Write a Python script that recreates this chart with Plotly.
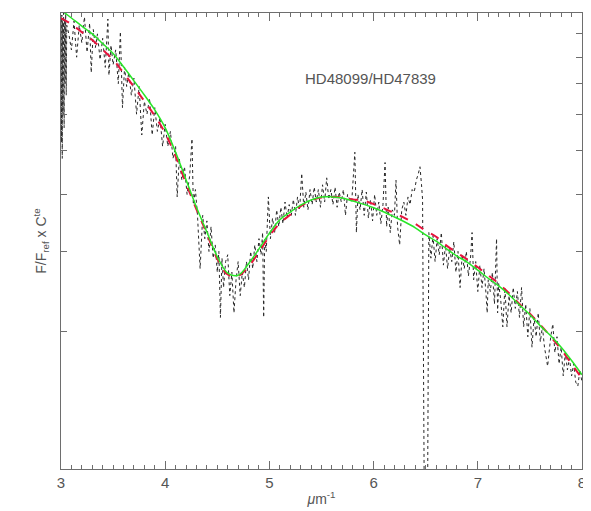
import plotly.graph_objs as go

GREY = 'rgba( 85,  85,  85, 1.0)'
AXIS = 'rgba(110, 110, 110, 1.0)'
BLACK = 'rgba( 40,  40,  40, 1.0)'
RED = 'rgba(230,  20,  60, 1.0)'
GREEN = 'rgba( 40, 230,  40, 1.0)'

# observed ratio spectrum (wavenumber in 1/micron, relative flux)
obs_x = [3.000, 3.004, 3.008, 3.012, 3.016, 3.020, 3.025, 3.030, 3.035, 3.040,
         3.045, 3.050, 3.055, 3.075, 3.100, 3.125, 3.150, 3.175, 3.200, 3.225,
         3.250, 3.275, 3.290, 3.310, 3.330, 3.350, 3.375, 3.400, 3.425, 3.450,
         3.460, 3.480, 3.500, 3.525, 3.550, 3.570, 3.590, 3.610, 3.630, 3.650,
         3.675, 3.700, 3.725, 3.750, 3.775, 3.800, 3.825, 3.850, 3.875, 3.900,
         3.925, 3.950, 3.975, 4.000, 4.025, 4.050, 4.075, 4.100, 4.115, 4.135,
         4.160, 4.185, 4.210, 4.235, 4.257, 4.270, 4.290, 4.310, 4.335, 4.360,
         4.380, 4.400, 4.420, 4.440, 4.460, 4.480, 4.500, 4.515, 4.530, 4.545,
         4.560, 4.580, 4.600, 4.620, 4.640, 4.660, 4.680, 4.700, 4.720, 4.740,
         4.760, 4.780, 4.800, 4.820, 4.840, 4.860, 4.880, 4.900, 4.920, 4.935,
         4.945, 4.955, 4.970, 4.990, 5.010, 5.030, 5.050, 5.070, 5.090, 5.110,
         5.130, 5.150, 5.170, 5.190, 5.210, 5.230, 5.250, 5.270, 5.290, 5.310,
         5.330, 5.350, 5.370, 5.390, 5.410, 5.430, 5.450, 5.470, 5.490, 5.510,
         5.530, 5.550, 5.570, 5.590, 5.610, 5.630, 5.650, 5.670, 5.690, 5.710,
         5.730, 5.750, 5.770, 5.790, 5.820, 5.835, 5.850, 5.870, 5.890, 5.910,
         5.930, 5.950, 5.970, 5.990, 6.010, 6.030, 6.050, 6.070, 6.090, 6.110,
         6.125, 6.140, 6.160, 6.180, 6.200, 6.215, 6.230, 6.250, 6.270, 6.290,
         6.310, 6.330, 6.350, 6.370, 6.390, 6.410, 6.430, 6.445, 6.460, 6.470,
         6.490, 6.515, 6.530, 6.550, 6.570, 6.590, 6.610, 6.630, 6.650, 6.670,
         6.690, 6.710, 6.730, 6.750, 6.770, 6.790, 6.810, 6.830, 6.850, 6.870,
         6.890, 6.910, 6.930, 6.945, 6.960, 6.980, 7.000, 7.020, 7.040, 7.060,
         7.080, 7.090, 7.100, 7.120, 7.140, 7.160, 7.180, 7.190, 7.200, 7.220,
         7.240, 7.260, 7.280, 7.300, 7.320, 7.340, 7.360, 7.380, 7.400, 7.420,
         7.440, 7.460, 7.480, 7.500, 7.520, 7.540, 7.560, 7.580, 7.600, 7.620,
         7.640, 7.670, 7.700, 7.720, 7.740, 7.760, 7.780, 7.800, 7.820, 7.840,
         7.860, 7.880, 7.900, 7.920, 7.940, 7.960, 7.980, 8.000]
obs_y = [9.8, 5.2, 9.9, 4.8, 9.6, 6.0, 10.0, 5.6, 9.7, 7.0,
         10.1, 6.6, 9.4, 9.0, 8.3, 9.6, 8.0, 9.4, 8.6, 9.8,
         8.2, 9.5, 7.4, 9.2, 8.4, 9.0, 7.9, 8.8, 7.6, 9.7,
         7.3, 8.5, 7.7, 8.3, 7.0, 9.1, 6.2, 7.6, 6.9, 7.4,
         6.6, 7.2, 6.0, 6.9, 5.4, 6.4, 6.0, 6.5, 5.4, 6.2,
         5.5, 5.9, 5.1, 5.7, 5.1, 5.5, 4.8, 5.1, 3.95, 4.8,
         4.3, 4.6, 4.0, 4.4, 5.3, 3.8, 4.1, 3.6, 2.75, 3.6,
         3.2, 3.5, 3.0, 3.4, 2.9, 3.1, 2.7, 3.0, 2.15, 2.9,
         2.5, 2.85, 2.95, 2.4, 2.7, 2.2, 2.6, 2.85, 2.4, 2.7,
         2.5, 2.85, 2.6, 3.0, 2.75, 3.1, 2.85, 3.2, 2.95, 3.3,
         2.15, 3.2, 3.0, 3.95, 3.2, 3.55, 3.3, 3.7, 3.4, 3.75,
         3.45, 3.85, 3.55, 3.8, 3.6, 3.9, 3.6, 3.95, 3.7, 4.45,
         3.75, 4.05, 3.7, 4.1, 3.8, 4.15, 3.85, 4.1, 3.75, 4.2,
         3.85, 4.35, 3.9, 4.1, 3.8, 4.15, 3.75, 4.05, 3.85, 4.1,
         3.6, 4.0, 3.9, 3.85, 4.95, 3.3, 4.0, 3.7, 4.1, 3.6,
         4.05, 3.55, 3.9, 3.5, 4.0, 3.6, 3.85, 3.45, 3.8, 4.7,
         3.4, 3.75, 3.3, 3.7, 3.6, 4.3, 3.4, 3.1, 3.7, 3.85,
         3.6, 3.95, 3.8, 4.1, 4.05, 4.3, 4.45, 4.6, 4.2, 3.9,
         0.6, 0.6, 3.3, 2.9, 3.25, 2.85, 3.2, 2.95, 3.3, 2.8,
         3.1, 2.75, 3.05, 2.85, 3.15, 2.7, 3.0, 2.5, 2.95, 2.75,
         3.0, 2.65, 2.9, 3.3, 2.6, 2.85, 2.45, 2.8, 2.5, 2.75,
         2.4, 2.2, 2.6, 2.45, 2.7, 2.3, 3.2, 2.2, 2.55, 2.35,
         2.05, 2.5, 2.05, 2.4, 2.2, 2.5, 2.25, 2.45, 2.15, 2.5,
         2.05, 2.3, 1.95, 2.25, 1.85, 2.15, 1.95, 2.2, 1.9, 2.05,
         1.85, 1.68, 1.95, 2.08, 1.8, 1.95, 1.7, 1.85, 1.6, 1.8,
         1.65, 1.75, 1.6, 1.7, 1.55, 1.52, 1.65, 1.55]

# fitted curves
fit_x = [3.0, 3.1, 3.2, 3.3, 3.4, 3.5, 3.6, 3.7, 3.8, 3.9,
         4.0, 4.1, 4.2, 4.3, 4.4, 4.5, 4.6, 4.7, 4.8, 4.9,
         5.0, 5.1, 5.2, 5.3, 5.4, 5.5, 5.6, 5.7, 5.8, 5.9,
         6.0, 6.1, 6.2, 6.3, 6.4, 6.5, 6.6, 6.7, 6.8, 6.9,
         7.0, 7.1, 7.2, 7.3, 7.4, 7.5, 7.6, 7.7, 7.8, 7.9, 8.0]
green_y = [10.15, 9.75, 9.36, 9.0, 8.57, 8.15, 7.62, 7.1, 6.61, 6.13,
           5.6, 4.95, 4.31, 3.75, 3.31, 2.92, 2.69, 2.66, 2.82, 3.04,
           3.29, 3.52, 3.66, 3.79, 3.89, 3.95, 3.95, 3.93, 3.87, 3.81,
           3.74, 3.66, 3.57, 3.48, 3.38, 3.26, 3.16, 3.04, 2.93, 2.84,
           2.73, 2.62, 2.52, 2.41, 2.29, 2.18, 2.06, 1.96, 1.85, 1.73, 1.61]
red_y = [9.75, 9.45, 9.08, 8.73, 8.31, 7.9, 7.39, 6.89, 6.41, 5.95,
         5.45, 4.85, 4.23, 3.71, 3.28, 2.89, 2.67, 2.65, 2.78, 2.99,
         3.24, 3.46, 3.61, 3.77, 3.88, 3.94, 3.95, 3.94, 3.9, 3.88,
         3.81, 3.73, 3.64, 3.55, 3.45, 3.33, 3.23, 3.09, 2.98, 2.88,
         2.77, 2.66, 2.55, 2.43, 2.3, 2.19, 2.07, 1.95, 1.83, 1.7, 1.58]

y_ticks = [2, 3, 4, 5, 6, 7, 8, 9]
label = 'HD48099/HD47839'

fig = go.Figure()
fig.add_trace(go.Scatter(x=obs_x, y=obs_y, mode='lines',
                         line=dict(color=BLACK, width=1, dash='dot')))
fig.add_trace(go.Scatter(x=fit_x, y=red_y, mode='lines', line_shape='spline',
                         line=dict(color=RED, width=2, dash='dash')))
fig.add_trace(go.Scatter(x=fit_x, y=green_y, mode='lines', line_shape='spline',
                         line=dict(color=GREEN, width=1.5)))

fig.add_annotation(x=5.97, y=0.857, text=label, showarrow=False,
                   font=dict(size=15, color=GREY))

axis_common = dict(showline=True, linecolor=AXIS, linewidth=1, mirror='ticks',
                   ticks='inside', tickcolor=AXIS, showgrid=False, zeroline=False,
                   automargin=False)

fig.update_xaxes(range=[3, 8], tickmode='linear', tick0=3, dtick=1, ticklen=8, tickwidth=1,
                 tickfont=dict(size=15, color=GREY),
                 minor=dict(dtick=0.1, tick0=3, ticks='inside', ticklen=4,
                            tickcolor=AXIS, tickwidth=1, showgrid=False),
                 title=dict(text='<i>μ</i>m<sup>-1</sup>', font=dict(size=14, color=GREY), standoff=4),
                 **axis_common)
fig.update_yaxes(type='log', range=[0, 1], tickvals=y_ticks, ticklen=6, tickwidth=1,
                 showticklabels=False,
                 title=dict(text='F/F<sub>ref</sub> x C<sup>te</sup>',
                            font=dict(size=14, color=GREY), standoff=10),
                 **axis_common)

# the page body adds an 8px offset, so the figure is sized to fit inside the window
fig.update_layout(width=583, height=503, showlegend=False,
                  paper_bgcolor='white', plot_bgcolor='white',
                  font=dict(family='Liberation Sans, Arial, sans-serif', color=GREY),
                  margin=dict(l=53, r=9, t=5, b=42))

fig.write_html('out.html')
